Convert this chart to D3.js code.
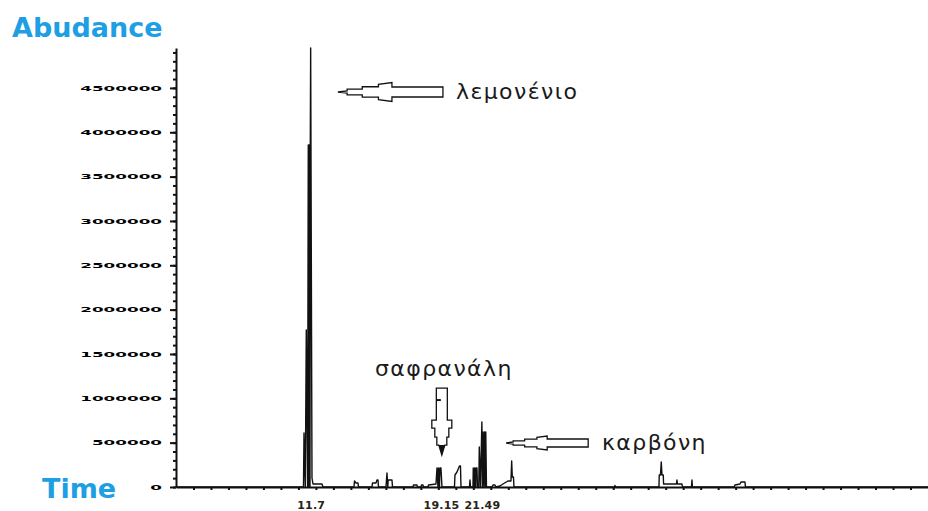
<!DOCTYPE html>
<html>
<head>
<meta charset="utf-8">
<script src="https://cdn.jsdelivr.net/npm/d3@7"></script>
<style>
  html, body { margin: 0; padding: 0; background: #fff; }
  svg { display: block; }
</style>
</head>
<body>
<svg id="chart" width="928" height="511"></svg>
<script>
// Total ion chromatogram: retention time (min) and abundance (counts)
const retentionTime = [
  4.000, 11.290, 11.319, 11.393, 11.450, 11.524, 11.564, 11.604, 11.627, 11.662,
  11.679, 11.700, 11.776, 11.833, 12.348, 12.405,
  14.177, 14.206, 14.292, 14.406, 14.435,
  15.206, 15.235, 15.435, 15.492, 15.550, 15.578,
  16.007, 16.064, 16.110, 16.133, 16.350, 16.379,
  17.551, 17.579, 17.779, 17.808,
  18.008, 18.037, 18.122, 18.151,
  18.408, 18.437, 18.866, 18.923, 18.980, 19.009, 19.066, 19.094, 19.150, 19.209,
  19.923, 19.952, 20.066, 20.209, 20.267, 20.295,
  20.781, 20.810, 20.838,
  20.981, 20.998, 21.056, 21.078, 21.136, 21.153, 21.210, 21.238,
  21.313, 21.342, 21.410, 21.490, 21.524, 21.553, 21.610, 21.639, 21.696, 21.713, 21.753,
  22.067, 22.125, 22.239, 22.296, 22.525, 22.697, 22.982, 23.097, 23.154, 23.194, 23.228, 23.297, 23.325,
  29.072, 29.100, 29.129,
  31.616, 31.633, 31.702, 31.748, 31.788, 31.862, 31.879, 32.617, 32.645, 32.674, 32.931, 32.960,
  33.474, 33.503, 33.531,
  35.904, 35.961, 36.247, 36.305, 36.533, 36.562,
  47.000
];
const abundance = [
  0, 0, 609000, 0, 1770000, 0, 3856000, 0, 3856000, 0,
  3856000, 4950000, 101500, 33800, 33800, 0,
  0, 67700, 45100, 45100, 0,
  0, 45100, 45100, 78900, 78900, 0,
  0, 157900, 0, 78900, 78900, 0,
  0, 22600, 22600, 0,
  0, 22600, 22600, 0,
  0, 22600, 33800, 214200, 0, 214200, 0, 214200, 214200, 0,
  0, 135300, 169100, 236800, 236800, 0,
  0, 78900, 0,
  0, 214200, 0, 214200, 0, 214200, 214200, 0,
  0, 451000, 0, 732900, 0, 620200, 0, 620200, 0, 620200, 0,
  0, 22600, 22600, 0, 11300, 33800, 67700, 67700, 67700, 293200, 112800, 112800, 0,
  0, 16900, 0,
  0, 135300, 135300, 281900, 135300, 135300, 33800, 33800, 78900, 33800, 33800, 0,
  0, 78900, 0,
  0, 22600, 33800, 56400, 56400, 0,
  0
];

// Axis ticks and labels
const yTickValues = [0, 500000, 1000000, 1500000, 2000000, 2500000, 3000000, 3500000, 4000000, 4500000];
const xLabelTimes = [11.7, 19.15, 21.49];
const axisTitles = ["Abudance", "Time"];

// Identified compounds: name, retention time and abundance the arrow points at
const compoundNames = ["λεμονένιο", "σαφρανάλη", "καρβόνη"];
const compoundTimes = [13.26, 19.2, 22.88];
const compoundLevels = [4454000, 360000, 496000];

const svg = d3.select("#chart");
const x = d3.scaleLinear().domain([4, 47]).range([176, 928]);
const y = d3.scaleLinear().domain([0, 4950000]).range([487, 48]);

const ink = "#111";
const titleBlue = "#1e9fe3";

// ---- y axis: minor ticks every 100 000, labelled majors every 500 000
const yMinor = svg.append("g")
  .attr("transform", `translate(${x(4)},0)`)
  .call(d3.axisLeft(y).tickValues(d3.range(0, 4950001, 100000)).tickSize(3).tickSizeOuter(0).tickFormat(""));
yMinor.select(".domain").remove();
yMinor.selectAll("line").attr("stroke", ink).attr("stroke-width", 2);

const yAxis = svg.append("g")
  .attr("transform", `translate(${x(4)},0)`)
  .call(d3.axisLeft(y).tickValues(yTickValues).tickSize(6).tickSizeOuter(0).tickFormat(d3.format("d")));
yAxis.select(".domain").attr("stroke", ink).attr("stroke-width", 2);
yAxis.selectAll("line").attr("stroke", ink).attr("stroke-width", 2);
yAxis.selectAll("text")
  .attr("x", 0).attr("dy", "0.36em")
  .attr("transform", "translate(-14,0) scale(1.2,0.45)")
  .attr("fill", "#000")
  .style("font-family", "'DejaVu Sans', sans-serif")
  .style("font-weight", "bold")
  .style("font-size", "14px");

// ---- x axis: minute ticks and labelled retention times
const xMinor = svg.append("g")
  .attr("transform", `translate(0,${y(0)})`)
  .call(d3.axisBottom(x).tickValues(d3.range(5, 47)).tickSize(3).tickSizeOuter(0).tickFormat(""));
xMinor.select(".domain").attr("stroke", ink).attr("stroke-width", 2);
xMinor.selectAll("line").attr("stroke", ink).attr("stroke-width", 2);

const xLabels = svg.append("g")
  .attr("transform", `translate(0,${y(0)})`)
  .call(d3.axisBottom(x).tickValues(xLabelTimes).tickSize(0).tickFormat(d => String(d)));
xLabels.select(".domain").remove();
xLabels.selectAll("text")
  .attr("y", 22).attr("dy", 0)
  .attr("fill", "#2a2418")
  .style("font-family", "'DejaVu Sans', sans-serif")
  .style("font-weight", "bold")
  .style("font-size", "11px")
  .style("letter-spacing", "0.2px");

// ---- chromatogram trace
const points = retentionTime.map((t, i) => [t, abundance[i]]);
svg.append("path")
  .datum(points)
  .attr("fill", "none")
  .attr("stroke", ink)
  .attr("stroke-width", 1.4)
  .attr("stroke-linejoin", "round")
  .attr("d", d3.line().x(d => x(d[0])).y(d => y(d[1])));

// ---- axis titles
svg.append("text")
  .attr("x", 12).attr("y", 37)
  .attr("fill", titleBlue)
  .style("font-family", "'DejaVu Sans', sans-serif")
  .style("font-weight", "bold")
  .style("font-size", "27px")
  .text(axisTitles[0]);
svg.append("text")
  .attr("x", 42).attr("y", 498)
  .attr("fill", titleBlue)
  .style("font-family", "'DejaVu Sans', sans-serif")
  .style("font-weight", "bold")
  .style("font-size", "27px")
  .text(axisTitles[1]);

// ---- annotation arrows (stepped outline block arrows)
const leftArrow = (hw, hl, sw, sl) =>
  `M0,0 L${hl*0.17},-1 L${hl*0.17},-${hw*0.3} L${hl*0.45},-${hw*0.3} L${hl*0.45},-${hw*0.55} ` +
  `L${hl*0.75},-${hw*0.55} L${hl*0.75},-${hw*0.8} L${hl},-${hw} L${hl},-${sw} L${hl+sl},-${sw} ` +
  `L${hl+sl},${sw} L${hl},${sw} L${hl},${hw} L${hl*0.75},${hw*0.8} L${hl*0.75},${hw*0.55} ` +
  `L${hl*0.45},${hw*0.55} L${hl*0.45},${hw*0.3} L${hl*0.17},${hw*0.3} L${hl*0.17},1 Z`;

const arrowStyle = sel => sel.attr("fill", "#fff").attr("stroke", ink).attr("stroke-width", 1.3);

// limonene: arrow pointing left at the main peak
svg.append("path")
  .attr("transform", `translate(${x(compoundTimes[0])},${y(compoundLevels[0])})`)
  .attr("d", leftArrow(9.5, 54, 5, 51))
  .call(arrowStyle);

// carvone: arrow pointing left at the 23.2 min peak
svg.append("path")
  .attr("transform", `translate(${x(compoundTimes[2])},${y(compoundLevels[2])})`)
  .attr("d", leftArrow(7, 41, 4, 41))
  .call(arrowStyle);

// safranal: arrow pointing down onto its peak
const safranal = svg.append("g")
  .attr("transform", `translate(${x(compoundTimes[1])},${y(compoundLevels[1])})`);
safranal.append("path")
  .attr("d", "M0,0 L-3,-10 L-5,-10 L-5,-18 L-7,-18 L-7,-27 L-10,-27 L-10,-35 L-5.5,-35 L-5.5,-67 " +
             "L5.5,-67 L5.5,-35 L10,-35 L10,-27 L7,-27 L7,-18 L5,-18 L5,-10 L3,-10 Z")
  .call(arrowStyle);
safranal.append("path").attr("d", "M0,0 L-3,-10 L3,-10 Z").attr("fill", ink);
safranal.append("line")
  .attr("x1", -5.5).attr("x2", -1).attr("y1", -55).attr("y2", -55)
  .attr("stroke", ink).attr("stroke-width", 2);

// ---- compound names
const nameStyle = sel => sel
  .attr("fill", "#1a1a1a")
  .style("font-family", "'DejaVu Sans', sans-serif")
  .style("font-size", "22px")
  .style("letter-spacing", "1.4px");

svg.append("text").attr("x", 456).attr("y", 99).text(compoundNames[0]).call(nameStyle);
svg.append("text").attr("x", 375).attr("y", 376).text(compoundNames[1]).call(nameStyle);
svg.append("text").attr("x", 602).attr("y", 450).text(compoundNames[2]).call(nameStyle);
</script>
</body>
</html>
